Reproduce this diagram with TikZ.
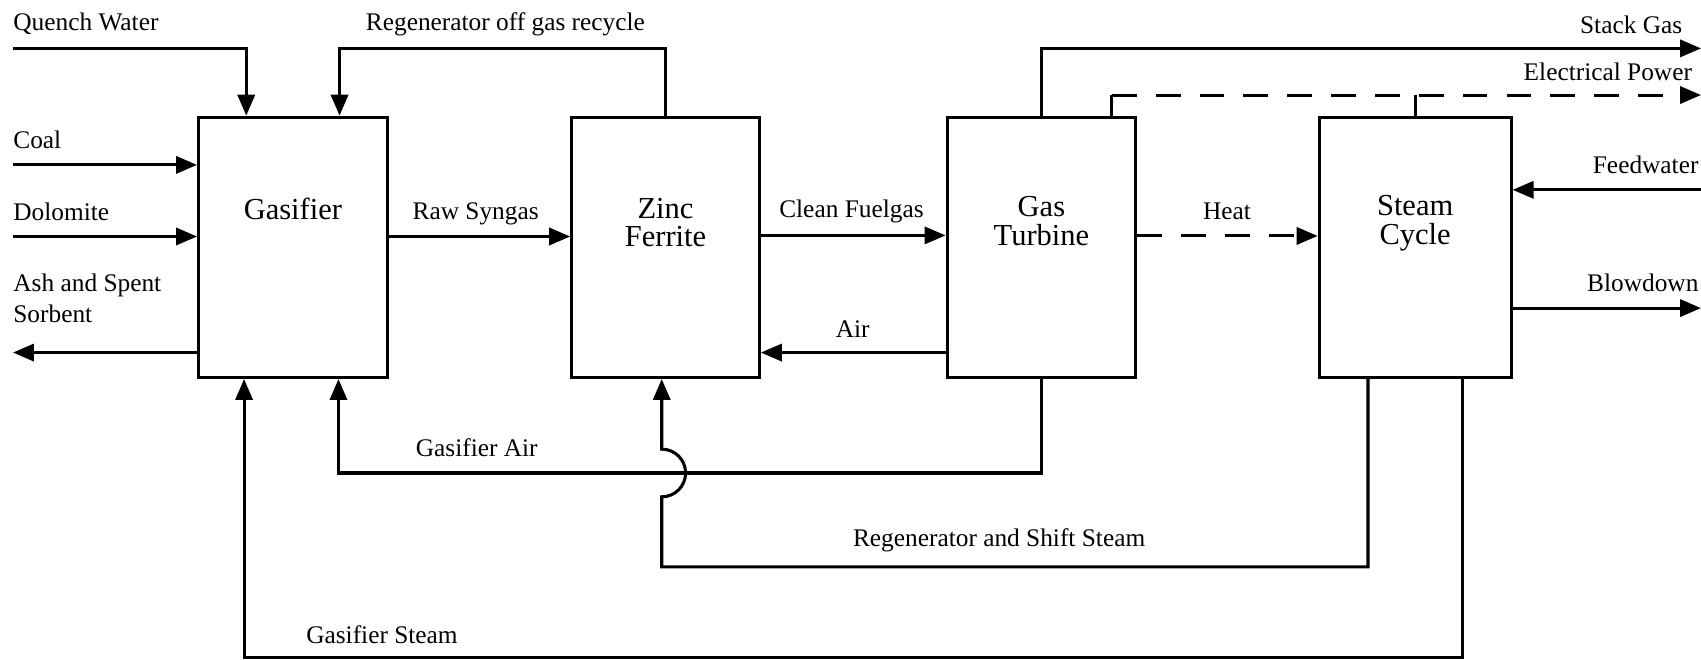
\documentclass[tikz,border=0pt]{standalone}
\usepackage{fontspec}
\setmainfont{Liberation Serif}
\usetikzlibrary{arrows.meta,calc}
\begin{document}
\begin{tikzpicture}[x=0.02cm,y=-0.02cm,
  flow/.style={line width=1.6pt, -{Triangle[length=11pt,width=9pt]}},
  pipe/.style={line width=1.6pt},
  dflow/.style={line width=1.6pt, dash pattern=on 13pt off 10pt, -{Triangle[length=11pt,width=9pt]}},
  unitbox/.style={draw, line width=1.6pt, inner sep=0pt, minimum height=4.8cm},
  lbl/.style={font=\fontsize{13.3}{15.9}\selectfont, inner sep=0pt},
  blbl/.style={font=\fontsize{16}{15}\selectfont, inner sep=0pt, align=center}]
\useasboundingbox (0,0) rectangle (1568,608);

% unit boxes
\node[unitbox, minimum width=3.48cm] (gas) at (270,228) {};
\node[unitbox, minimum width=3.46cm] (zinc) at (613.5,228) {};
\node[unitbox, minimum width=3.48cm] (gt) at (960,228) {};
\node[unitbox, minimum width=3.54cm] (sc) at (1304.5,228) {};

\node[blbl] (gasT) at (270,193) {Gasifier};
\node[blbl] (zincT) at (613.5,205) {Zinc\\Ferrite};
\node[blbl] (gtT) at (960,204) {Gas\\Turbine};
\node[blbl] (scT) at (1304.5,206) {Steam\\Cycle};

% free ends and bends
\coordinate (qw) at (12,44.6);
\coordinate (qwx) at (227,0);
\coordinate (rtop) at (313,44.6);
\coordinate (coal) at (12,152);
\coordinate (dol) at (12,218);
\coordinate (ash) at (12,325);
\coordinate (rs) at (450,218);
\coordinate (cf) at (780,217);
\coordinate (air) at (786,325);
\coordinate (ht) at (1130,217.5);
\coordinate (sg) at (1568,44.6);
\coordinate (epx) at (1025,87.6);
\coordinate (ep) at (1568,87.6);
\coordinate (fw) at (1568,175);
\coordinate (bd) at (1568,284);
\coordinate (gaL) at (312,436);
\coordinate (rsR) at (1261,522.6);
\coordinate (rsL) at (610,522.6);
\coordinate (hopB) at (610,458);
\coordinate (gsR) at (1348,606);
\coordinate (gsL) at (225,606);

% connectors
\draw[flow] (qw) -| (qwx |- gas.north);
\draw[flow] (zinc.north) |- (rtop) -- (rtop |- gas.north);
\draw[flow] (coal) -- (coal -| gas.west);
\draw[flow] (dol) -- (dol -| gas.west);
\draw[flow] (ash -| gas.west) -- (ash);
\draw[flow] (gas.east |- rs) -- (zinc.west |- rs);
\draw[flow] (zinc.east |- cf) -- (gt.west |- cf);
\draw[flow] (gt.west |- air) -- (zinc.east |- air);
\draw[dflow] (gt.east |- ht) -- (sc.west |- ht);
\draw[flow] (gt.north) |- (sg);
\draw[pipe] (epx |- gt.north) -- (epx);
\draw[dflow] (epx) -- (ep);
\draw[pipe] (sc.north) -- (sc.north |- ep);
\draw[flow] (fw) -- (fw -| sc.east);
\draw[flow] (bd -| sc.east) -- (bd);
\draw[flow] (gt.south) |- (gaL) -- (gaL |- gas.south);
\draw[flow] (rsR |- sc.south) -- (rsR) -- (rsL) -- (hopB) arc(-90:90:0.44cm) -- (rsL |- zinc.south);
\draw[flow] (gsR |- sc.south) -- (gsR) -- (gsL) -- (gsL |- gas.south);

% labels
\node[lbl, anchor=west] (lqw) at (12,22) {Quench Water};
\node[lbl, anchor=west] (lrog) at (337,22) {Regenerator off gas recycle};
\node[lbl, anchor=west] (lcoal) at (12,129) {Coal};
\node[lbl, anchor=west] (ldol) at (12,195) {Dolomite};
\node[lbl, anchor=west, align=left] (lash) at (12,275) {Ash and Spent\\Sorbent};
\node[lbl, anchor=west] (lrs) at (380,197) {Raw Syngas};
\node[lbl, anchor=west] (lcf) at (718,195) {Clean Fuelgas};
\node[lbl] (lair) at (786,303) {Air};
\node[lbl] (lheat) at (1131,195) {Heat};
\node[lbl, anchor=east] (lsg) at (1551,23) {Stack Gas};
\node[lbl, anchor=east] (lep) at (1560,66) {Electrical Power};
\node[lbl, anchor=east] (lfw) at (1566,152) {Feedwater};
\node[lbl, anchor=east] (lbd) at (1566,261) {Blowdown};
\node[lbl, anchor=west] (lga) at (383,413) {Gasifier Air};
\node[lbl, anchor=west] (lrss) at (786,498) {Regenerator and Shift Steam};
\node[lbl, anchor=west] (lgs) at (282,585) {Gasifier Steam};
\end{tikzpicture}
\end{document}
